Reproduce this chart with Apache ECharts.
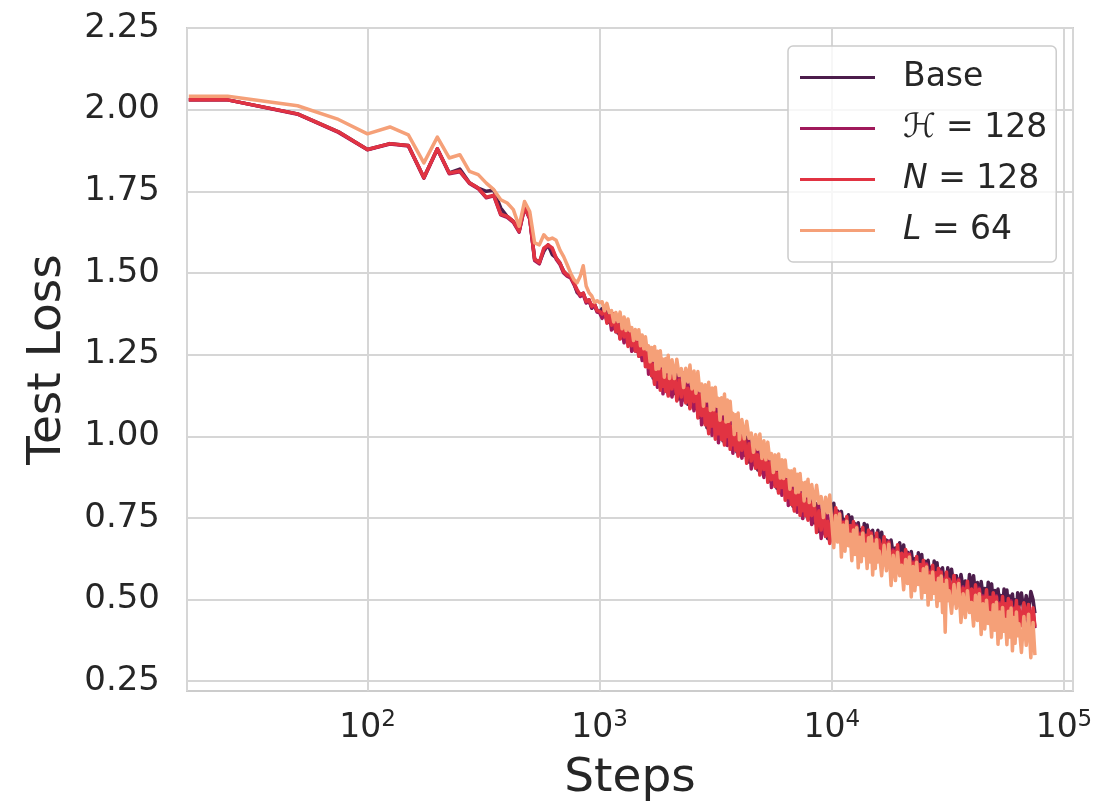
<!DOCTYPE html>
<html>
<head>
<meta charset="utf-8">
<title>test loss</title>
<script src="https://cdn.jsdelivr.net/npm/echarts@6.0.0/dist/echarts.min.js"></script>
<style>
  html, body { margin: 0; padding: 0; background: #fff; }
  #main { width: 1097px; height: 806px; }
</style>
</head>
<body>
<div id="main"></div>
<script type="text/javascript">
// steps (log x axis): every 25 steps up to 2000, then thinner
const steps = [
  17, 25, 50, 75, 100, 125, 150, 175, 200, 225, 250, 275, 300, 325, 350, 375, 400, 425, 450, 475,
  500, 525, 550, 575, 600, 625, 650, 675, 700, 725, 750, 775, 800, 825, 850, 875, 900, 925, 950, 975, 1000,
  1025, 1050, 1075, 1100, 1125, 1150, 1175, 1200, 1225, 1250, 1275, 1300, 1325, 1350, 1375, 1400, 1425, 1450, 1475, 1500,
  1525, 1550, 1575, 1600, 1625, 1650, 1675, 1700, 1725, 1750, 1775, 1800, 1825, 1850, 1875, 1900, 1925, 1950, 1975, 2000,
  2050, 2100, 2150, 2200, 2250, 2300, 2350, 2400, 2450, 2500, 2550, 2600, 2650, 2700, 2750, 2800, 2850, 2900, 2950, 3000,
  3050, 3100, 3150, 3200, 3250, 3300, 3350, 3400, 3450, 3500, 3550, 3600, 3650, 3700, 3750, 3800, 3850, 3900, 3950, 4000,
  4100, 4200, 4300, 4400, 4500, 4600, 4700, 4800, 4900, 5000, 5100, 5200, 5300, 5400, 5500, 5600, 5700, 5800, 5900, 6000,
  6100, 6200, 6300, 6400, 6500, 6600, 6700, 6800, 6900, 7000, 7100, 7200, 7300, 7400, 7500, 7600, 7700, 7800, 7900, 8000,
  8200, 8400, 8600, 8800, 9000, 9200, 9400, 9600, 9800, 10000, 10200, 10400, 10600, 10800, 11000, 11200, 11400, 11600, 11800, 12000,
  12200, 12400, 12600, 12800, 13000, 13200, 13400, 13600, 13800, 14000, 14200, 14400, 14600, 14800, 15000, 15200, 15400, 15600, 15800, 16000,
  16400, 16800, 17200, 17600, 18000, 18400, 18800, 19200, 19600, 20000, 20400, 20800, 21200, 21600, 22000, 22400, 22800, 23200, 23600, 24000,
  24400, 24800, 25200, 25600, 26000, 26400, 26800, 27200, 27600, 28000, 28400, 28800, 29200, 29600, 30000, 30400, 30800, 31200, 31600, 32000,
  32800, 33600, 34400, 35200, 36000, 36800, 37600, 38400, 39200, 40000, 40800, 41600, 42400, 43200, 44000, 44800, 45600, 46400, 47200, 48000,
  48800, 49600, 50400, 51200, 52000, 52800, 53600, 54400, 55200, 56000, 56800, 57600, 58400, 59200, 60000, 60800, 61600, 62400, 63200, 64000,
  65600, 67200, 68800, 70400, 72000, 73600, 75000
];

const lossBase = [
  2.030, 2.030, 1.987, 1.932, 1.878, 1.896, 1.890, 1.792, 1.880, 1.806, 1.818, 1.776, 1.760, 1.750, 1.753, 1.699, 1.673, 1.658, 1.628, 1.702,
  1.668, 1.542, 1.532, 1.566, 1.586, 1.556, 1.546, 1.530, 1.505, 1.494, 1.489, 1.469, 1.440, 1.433, 1.438, 1.413, 1.418, 1.392, 1.405, 1.385, 1.380,
  1.391, 1.368, 1.390, 1.348, 1.369, 1.347, 1.371, 1.316, 1.331, 1.342, 1.325, 1.296, 1.332, 1.280, 1.310, 1.287, 1.317, 1.260, 1.278, 1.289,
  1.270, 1.238, 1.275, 1.214, 1.247, 1.218, 1.255, 1.178, 1.201, 1.219, 1.199, 1.162, 1.219, 1.148, 1.196, 1.168, 1.216, 1.136, 1.168, 1.191,
  1.172, 1.131, 1.191, 1.114, 1.165, 1.133, 1.184, 1.098, 1.130, 1.154, 1.135, 1.085, 1.150, 1.058, 1.113, 1.074, 1.129, 1.026, 1.060, 1.084,
  1.060, 1.015, 1.085, 0.998, 1.058, 1.024, 1.084, 0.986, 1.025, 1.054, 1.026, 0.983, 1.048, 0.966, 1.022, 0.988, 1.044, 0.952, 0.988, 1.014,
  0.983, 0.942, 0.997, 0.921, 0.968, 0.935, 0.982, 0.897, 0.926, 0.946, 0.924, 0.883, 0.939, 0.863, 0.911, 0.878, 0.926, 0.841, 0.871, 0.891,
  0.869, 0.828, 0.884, 0.808, 0.856, 0.823, 0.871, 0.786, 0.816, 0.836, 0.817, 0.779, 0.838, 0.765, 0.816, 0.786, 0.837, 0.755, 0.788, 0.811,
  0.784, 0.735, 0.793, 0.708, 0.761, 0.726, 0.780, 0.687, 0.721, 0.746, 0.795, 0.735, 0.771, 0.702, 0.770, 0.725, 0.745, 0.692, 0.760, 0.715,
  0.753, 0.694, 0.732, 0.665, 0.735, 0.692, 0.714, 0.663, 0.733, 0.690, 0.728, 0.670, 0.708, 0.642, 0.712, 0.670, 0.692, 0.642, 0.712, 0.670,
  0.706, 0.646, 0.682, 0.614, 0.682, 0.638, 0.658, 0.606, 0.674, 0.630, 0.667, 0.608, 0.645, 0.578, 0.647, 0.604, 0.625, 0.574, 0.643, 0.600,
  0.638, 0.579, 0.617, 0.550, 0.620, 0.577, 0.599, 0.548, 0.618, 0.575, 0.613, 0.555, 0.593, 0.527, 0.597, 0.555, 0.577, 0.527, 0.597, 0.555,
  0.593, 0.535, 0.573, 0.507, 0.577, 0.535, 0.557, 0.507, 0.577, 0.535, 0.573, 0.514, 0.552, 0.485, 0.555, 0.512, 0.534, 0.483, 0.553, 0.510,
  0.548, 0.490, 0.528, 0.462, 0.532, 0.490, 0.512, 0.462, 0.532, 0.490, 0.529, 0.472, 0.511, 0.446, 0.517, 0.476, 0.499, 0.450, 0.521, 0.480,
  0.520, 0.462, 0.512, 0.455, 0.525, 0.500, 0.458
];

const lossH128 = [
  2.030, 2.030, 1.986, 1.930, 1.877, 1.895, 1.889, 1.790, 1.879, 1.804, 1.810, 1.774, 1.758, 1.730, 1.736, 1.678, 1.670, 1.655, 1.625, 1.700,
  1.665, 1.538, 1.528, 1.572, 1.583, 1.573, 1.542, 1.526, 1.500, 1.490, 1.485, 1.465, 1.444, 1.428, 1.434, 1.408, 1.414, 1.394, 1.400, 1.380, 1.378,
  1.361, 1.377, 1.354, 1.378, 1.325, 1.342, 1.320, 1.350, 1.299, 1.321, 1.286, 1.316, 1.288, 1.323, 1.260, 1.284, 1.261, 1.296, 1.246, 1.269,
  1.232, 1.260, 1.227, 1.266, 1.190, 1.217, 1.187, 1.234, 1.162, 1.195, 1.150, 1.198, 1.161, 1.218, 1.130, 1.170, 1.141, 1.199, 1.127, 1.168,
  1.120, 1.171, 1.130, 1.190, 1.095, 1.137, 1.105, 1.165, 1.088, 1.130, 1.078, 1.133, 1.083, 1.148, 1.035, 1.080, 1.040, 1.106, 1.014, 1.058,
  1.003, 1.063, 1.018, 1.088, 0.980, 1.030, 0.995, 1.066, 0.979, 1.028, 0.972, 1.027, 0.984, 1.049, 0.948, 0.993, 0.961, 1.025, 0.944, 0.989,
  0.933, 0.979, 0.938, 0.994, 0.900, 0.938, 0.906, 0.961, 0.885, 0.923, 0.874, 0.920, 0.880, 0.936, 0.843, 0.881, 0.850, 0.905, 0.830, 0.868,
  0.819, 0.865, 0.825, 0.881, 0.788, 0.826, 0.795, 0.850, 0.775, 0.813, 0.767, 0.816, 0.779, 0.838, 0.748, 0.789, 0.761, 0.819, 0.747, 0.788,
  0.730, 0.779, 0.729, 0.791, 0.687, 0.731, 0.697, 0.760, 0.677, 0.721, 0.717, 0.767, 0.691, 0.767, 0.709, 0.740, 0.664, 0.740, 0.673, 0.713,
  0.674, 0.725, 0.650, 0.728, 0.671, 0.704, 0.629, 0.707, 0.641, 0.683, 0.646, 0.699, 0.626, 0.706, 0.651, 0.685, 0.611, 0.690, 0.625, 0.668,
  0.628, 0.678, 0.602, 0.679, 0.621, 0.653, 0.577, 0.654, 0.587, 0.628, 0.589, 0.639, 0.564, 0.641, 0.584, 0.616, 0.541, 0.618, 0.552, 0.593,
  0.555, 0.606, 0.532, 0.610, 0.554, 0.587, 0.513, 0.591, 0.526, 0.568, 0.530, 0.582, 0.508, 0.587, 0.531, 0.565, 0.491, 0.570, 0.505, 0.548,
  0.509, 0.560, 0.485, 0.563, 0.506, 0.539, 0.464, 0.542, 0.476, 0.518, 0.480, 0.531, 0.457, 0.535, 0.479, 0.512, 0.438, 0.516, 0.451, 0.493,
  0.455, 0.507, 0.433, 0.512, 0.456, 0.490, 0.416, 0.495, 0.430, 0.473, 0.436, 0.489, 0.416, 0.496, 0.441, 0.476, 0.403, 0.483, 0.419, 0.463,
  0.425, 0.478, 0.405, 0.483, 0.430, 0.465, 0.412
];

const lossN128 = [
  2.030, 2.030, 1.987, 1.932, 1.878, 1.896, 1.890, 1.792, 1.880, 1.806, 1.812, 1.776, 1.760, 1.732, 1.738, 1.680, 1.673, 1.658, 1.628, 1.702,
  1.668, 1.542, 1.532, 1.576, 1.586, 1.577, 1.546, 1.530, 1.505, 1.494, 1.489, 1.469, 1.449, 1.433, 1.438, 1.413, 1.418, 1.398, 1.405, 1.385, 1.382,
  1.374, 1.392, 1.346, 1.372, 1.340, 1.375, 1.320, 1.341, 1.298, 1.341, 1.304, 1.337, 1.275, 1.314, 1.277, 1.322, 1.261, 1.286, 1.245, 1.288,
  1.250, 1.281, 1.213, 1.254, 1.210, 1.264, 1.185, 1.218, 1.159, 1.222, 1.174, 1.226, 1.141, 1.202, 1.153, 1.224, 1.138, 1.182, 1.123, 1.195,
  1.145, 1.200, 1.108, 1.172, 1.120, 1.194, 1.102, 1.147, 1.084, 1.158, 1.106, 1.165, 1.056, 1.127, 1.063, 1.145, 1.035, 1.084, 1.008, 1.090,
  1.031, 1.095, 0.991, 1.067, 1.008, 1.095, 0.990, 1.044, 0.973, 1.060, 0.999, 1.058, 0.960, 1.030, 0.974, 1.054, 0.957, 1.005, 0.939, 1.019,
  0.957, 1.007, 0.917, 0.977, 0.924, 0.993, 0.902, 0.943, 0.881, 0.950, 0.898, 0.948, 0.859, 0.919, 0.867, 0.936, 0.846, 0.887, 0.826, 0.895,
  0.843, 0.893, 0.804, 0.864, 0.812, 0.881, 0.791, 0.832, 0.771, 0.840, 0.791, 0.844, 0.758, 0.821, 0.772, 0.844, 0.757, 0.801, 0.743, 0.815,
  0.757, 0.810, 0.705, 0.772, 0.713, 0.792, 0.693, 0.740, 0.672, 0.751, 0.713, 0.781, 0.732, 0.763, 0.678, 0.736, 0.696, 0.754, 0.669, 0.727,
  0.670, 0.739, 0.691, 0.724, 0.640, 0.700, 0.661, 0.721, 0.637, 0.697, 0.642, 0.713, 0.667, 0.702, 0.620, 0.681, 0.643, 0.704, 0.621, 0.682,
  0.624, 0.692, 0.643, 0.675, 0.590, 0.649, 0.609, 0.668, 0.583, 0.642, 0.585, 0.653, 0.605, 0.637, 0.553, 0.612, 0.573, 0.632, 0.548, 0.607,
  0.551, 0.620, 0.573, 0.606, 0.523, 0.583, 0.545, 0.605, 0.522, 0.582, 0.526, 0.596, 0.549, 0.583, 0.500, 0.561, 0.523, 0.584, 0.501, 0.562,
  0.505, 0.574, 0.526, 0.559, 0.475, 0.535, 0.496, 0.556, 0.472, 0.532, 0.476, 0.545, 0.498, 0.531, 0.448, 0.508, 0.470, 0.530, 0.447, 0.507,
  0.451, 0.521, 0.474, 0.508, 0.425, 0.486, 0.448, 0.509, 0.426, 0.487, 0.432, 0.503, 0.457, 0.492, 0.410, 0.472, 0.435, 0.497, 0.415, 0.477,
  0.420, 0.490, 0.445, 0.485, 0.405, 0.475, 0.417
];

const lossL64 = [
  2.041, 2.041, 2.012, 1.970, 1.926, 1.947, 1.923, 1.837, 1.916, 1.852, 1.862, 1.811, 1.801, 1.775, 1.755, 1.724, 1.714, 1.694, 1.643, 1.719,
  1.688, 1.592, 1.586, 1.617, 1.602, 1.607, 1.600, 1.570, 1.550, 1.525, 1.500, 1.480, 1.470, 1.490, 1.522, 1.460, 1.440, 1.430, 1.410, 1.415, 1.409,
  1.412, 1.384, 1.407, 1.379, 1.385, 1.350, 1.379, 1.351, 1.380, 1.329, 1.365, 1.324, 1.359, 1.323, 1.333, 1.293, 1.327, 1.297, 1.326, 1.277,
  1.310, 1.268, 1.305, 1.265, 1.277, 1.228, 1.272, 1.233, 1.275, 1.205, 1.260, 1.207, 1.262, 1.216, 1.236, 1.181, 1.238, 1.198, 1.248, 1.177,
  1.234, 1.177, 1.236, 1.186, 1.207, 1.149, 1.208, 1.166, 1.218, 1.145, 1.200, 1.132, 1.198, 1.139, 1.160, 1.092, 1.158, 1.108, 1.165, 1.079,
  1.148, 1.081, 1.150, 1.092, 1.116, 1.049, 1.118, 1.069, 1.129, 1.044, 1.111, 1.046, 1.107, 1.051, 1.070, 1.005, 1.066, 1.018, 1.071, 0.989,
  1.051, 0.992, 1.046, 0.994, 1.010, 0.951, 1.005, 0.960, 1.007, 0.932, 0.986, 0.928, 0.982, 0.931, 0.947, 0.889, 0.943, 0.899, 0.946, 0.872,
  0.928, 0.871, 0.927, 0.877, 0.895, 0.838, 0.894, 0.851, 0.900, 0.827, 0.884, 0.829, 0.886, 0.838, 0.857, 0.802, 0.859, 0.818, 0.868, 0.797,
  0.852, 0.788, 0.850, 0.795, 0.815, 0.751, 0.813, 0.766, 0.820, 0.739, 0.659, 0.757, 0.676, 0.762, 0.630, 0.728, 0.648, 0.740, 0.665, 0.700,
  0.619, 0.713, 0.638, 0.720, 0.597, 0.691, 0.616, 0.704, 0.635, 0.669, 0.595, 0.689, 0.615, 0.694, 0.575, 0.669, 0.595, 0.683, 0.615, 0.649,
  0.573, 0.666, 0.588, 0.669, 0.543, 0.636, 0.558, 0.645, 0.573, 0.605, 0.530, 0.623, 0.549, 0.630, 0.508, 0.601, 0.527, 0.614, 0.546, 0.579,
  0.504, 0.594, 0.522, 0.600, 0.483, 0.572, 0.501, 0.584, 0.519, 0.551, 0.479, 0.565, 0.497, 0.572, 0.460, 0.546, 0.400, 0.559, 0.496, 0.527,
  0.458, 0.546, 0.473, 0.549, 0.430, 0.518, 0.445, 0.527, 0.460, 0.491, 0.419, 0.513, 0.436, 0.518, 0.393, 0.487, 0.410, 0.498, 0.427, 0.460,
  0.385, 0.484, 0.406, 0.492, 0.363, 0.462, 0.383, 0.476, 0.403, 0.439, 0.362, 0.464, 0.385, 0.474, 0.343, 0.445, 0.366, 0.462, 0.389, 0.426,
  0.338, 0.448, 0.360, 0.455, 0.322, 0.430, 0.330
];

const seriesNames = ['Base', 'H128', 'N128', 'L64'];
const seriesColors = ['#4c1d4b', '#a0195b', '#e13342', '#f5a078'];
const yTicks = [0.25, 0.5, 0.75, 1.0, 1.25, 1.5, 1.75, 2.0, 2.25];

const legendLabels = {
  Base: 'Base',
  H128: '{c|ℋ} = 128',
  N128: '{i|N} = 128',
  L64: '{i|L} = 64'
};

const font = 'DejaVu Sans';
const textColor = '#262626';
const gridColor = '#d6d6d6';

const lossData = [lossBase, lossH128, lossN128, lossL64];
const series = seriesNames.map((name, k) => ({
  name: name,
  type: 'line',
  symbol: 'none',
  animation: false,
  data: steps.map((s, i) => [s, lossData[k][i]]),
  lineStyle: { width: 3.5, color: seriesColors[k], join: 'round' },
  itemStyle: { color: seriesColors[k] }
}));

const myChart = echarts.init(document.getElementById('main'), null, { renderer: 'canvas' });
const option = {
  backgroundColor: '#ffffff',
  animation: false,
  grid: {
    left: 187, right: 24, top: 28, bottom: 115,
    show: true, borderColor: '#cccccc', borderWidth: 2,
    outerBoundsMode: 'none'
  },
  xAxis: {
    type: 'log',
    logBase: 10,
    min: 16.7,
    max: 109400,
    name: 'Steps',
    nameLocation: 'middle',
    nameGap: 64,
    nameTextStyle: { fontFamily: font, fontSize: 47, color: textColor },
    axisLine: { show: false },
    axisTick: { show: false },
    splitLine: { show: true, lineStyle: { color: gridColor, width: 2 } },
    minorSplitLine: { show: false },
    axisLabel: {
      showMinLabel: false,
      showMaxLabel: false,
      margin: 18,
      formatter: function (v) {
        return '{b|10}{s|' + Math.round(Math.log10(v)) + '}';
      },
      rich: {
        b: { fontFamily: font, fontSize: 33, color: textColor, lineHeight: 36, verticalAlign: 'bottom' },
        s: { fontFamily: font, fontSize: 23, color: textColor, lineHeight: 26, verticalAlign: 'top' }
      }
    }
  },
  yAxis: {
    type: 'value',
    min: 0.22,
    max: 2.25,
    name: 'Test Loss',
    nameLocation: 'middle',
    nameGap: 116,
    nameTextStyle: { fontFamily: font, fontSize: 47, color: textColor },
    axisLine: { show: false },
    axisTick: { show: false, customValues: yTicks },
    splitLine: { show: true, lineStyle: { color: gridColor, width: 2 } },
    axisLabel: {
      customValues: yTicks,
      margin: 27,
      fontFamily: font,
      fontSize: 34,
      color: textColor,
      formatter: function (v) { return v.toFixed(2); }
    }
  },
  legend: {
    orient: 'vertical',
    left: 788,
    top: 46,
    padding: [15, 9, 15, 12],
    itemGap: 18,
    itemWidth: 75,
    itemHeight: 3,
    icon: 'rect',
    borderColor: '#cccccc',
    borderWidth: 1.5,
    borderRadius: 5,
    backgroundColor: 'rgba(255,255,255,0.8)',
    data: seriesNames,
    formatter: function (name) { return legendLabels[name]; },
    textStyle: {
      fontFamily: font,
      fontSize: 33,
      color: textColor,
      padding: [0, 0, 0, 23],
      rich: {
        i: { fontFamily: font, fontSize: 33, fontStyle: 'italic', color: textColor },
        c: { fontFamily: font, fontSize: 33, fontStyle: 'italic', color: textColor }
      }
    }
  },
  series: series
};
myChart.setOption(option);
</script>
</body>
</html>
